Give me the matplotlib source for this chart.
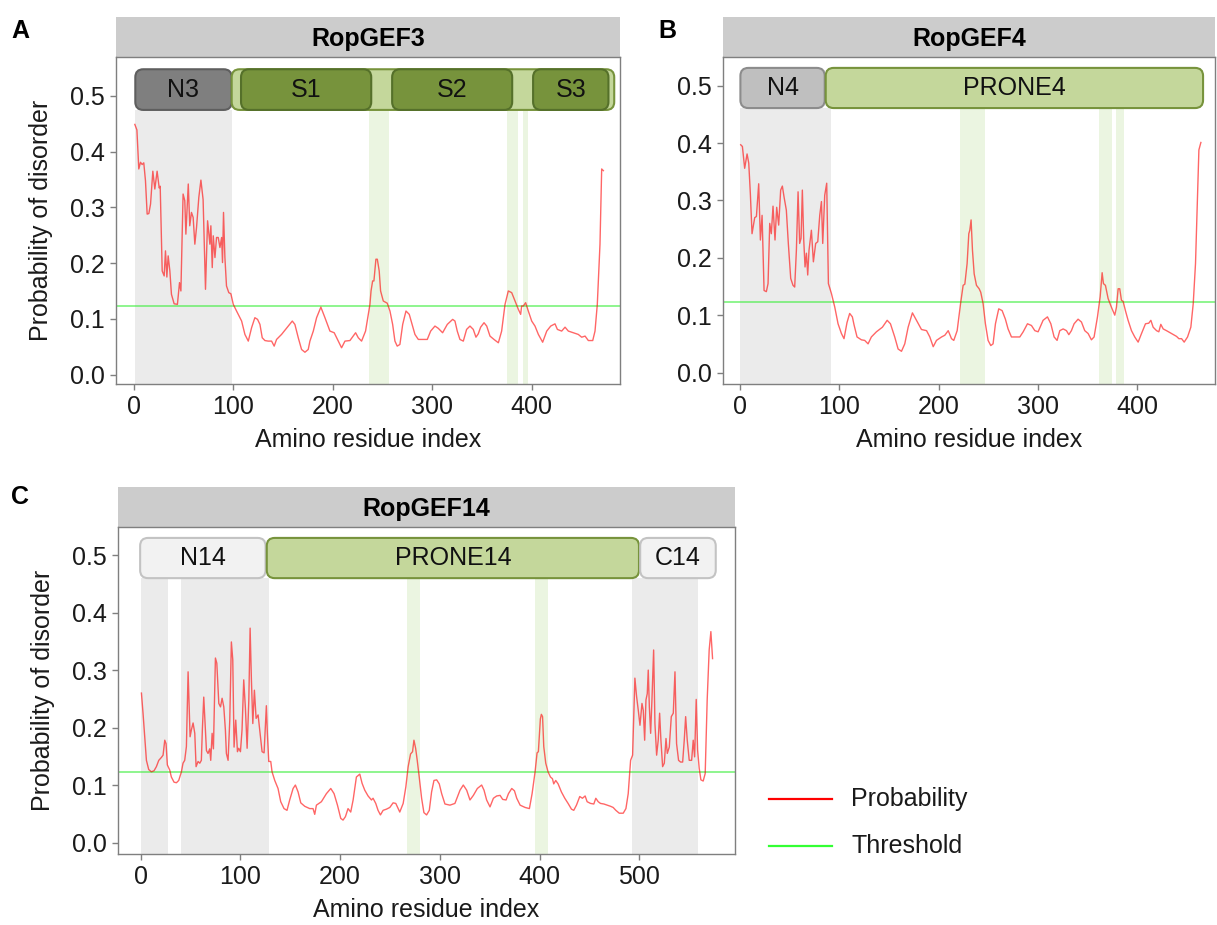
import matplotlib.pyplot as plt
from matplotlib.lines import Line2D
from matplotlib.patches import FancyBboxPatch

plt.rcParams["font.family"] = ["Liberation Sans", "DejaVu Sans"]

W, H = 1217, 925
THRESHOLD = 0.123
FS = 18

# RopGEF3
gef3_res = [1.2, 3.3, 5.2, 6.9, 8.6, 10.2, 11.9, 13.6, 15.3, 17.0, 19.3, 21.3, 23.6, 25.7, 26.7,
            28.7, 30.7, 32.0, 33.4, 34.7, 36.4, 38.0, 40.7, 44.0, 46.1, 47.5, 49.7, 51.4, 52.5,
            54.9, 56.4, 58.1, 59.8, 61.5, 63.2, 65.5, 67.6, 69.8, 72.2, 74.3, 76.6, 77.6, 79.0,
            80.0, 81.7, 83.3, 85.0, 86.7, 88.4, 89.3, 90.3, 91.7, 93.3, 95.6, 97.7, 100.1, 103.4,
            108.5, 111.8, 115.2, 118.5, 121.8, 124.5, 126.9, 129.2, 131.9, 135.2, 138.6, 141.2,
            143.6, 148.6, 155.3, 159.4, 162.0, 165.4, 168.7, 172.1, 175.4, 177.1, 180.5, 183.8,
            188.1, 192.2, 197.2, 201.5, 205.6, 208.9, 212.3, 217.3, 223.0, 225.7, 229.0, 233.0,
            237.4, 238.5, 240.1, 241.4, 243.4, 244.8, 246.7, 248.1, 250.8, 254.8, 257.5, 260.2,
            262.5, 264.8, 267.5, 270.3, 273.6, 276.9, 279.3, 282.6, 286.0, 291.0, 295.0, 298.4,
            302.7, 306.0, 310.4, 315.1, 320.5, 322.8, 325.1, 327.8, 331.2, 334.5, 337.9, 341.2,
            343.9, 346.2, 348.6, 352.0, 354.7, 358.0, 362.0, 366.4, 369.7, 373.1, 376.4, 379.8,
            383.1, 386.5, 388.8, 389.8, 391.5, 393.8, 396.5, 399.9, 403.2, 406.6, 410.9, 415.0,
            419.0, 423.3, 425.7, 430.0, 433.4, 436.7, 441.7, 446.7, 450.1, 453.5, 456.8, 461.2,
            463.5, 465.8, 468.5, 470.2, 471.9]
gef3_prob = [0.449, 0.439, 0.369, 0.381, 0.377, 0.380, 0.348, 0.288, 0.289, 0.306, 0.365, 0.333,
             0.365, 0.335, 0.338, 0.186, 0.177, 0.222, 0.175, 0.213, 0.186, 0.144, 0.127, 0.126,
             0.165, 0.150, 0.324, 0.312, 0.252, 0.342, 0.267, 0.291, 0.282, 0.234, 0.264, 0.318,
             0.349, 0.314, 0.153, 0.276, 0.234, 0.267, 0.192, 0.249, 0.210, 0.246, 0.246, 0.228,
             0.246, 0.201, 0.291, 0.210, 0.159, 0.147, 0.145, 0.126, 0.114, 0.096, 0.072, 0.060,
             0.084, 0.102, 0.099, 0.090, 0.066, 0.061, 0.060, 0.060, 0.051, 0.063, 0.072, 0.087,
             0.096, 0.090, 0.066, 0.045, 0.040, 0.045, 0.060, 0.078, 0.102, 0.121, 0.102, 0.078,
             0.075, 0.060, 0.048, 0.060, 0.061, 0.075, 0.066, 0.060, 0.078, 0.126, 0.150, 0.168,
             0.168, 0.207, 0.207, 0.186, 0.150, 0.132, 0.128, 0.114, 0.090, 0.060, 0.051, 0.054,
             0.090, 0.114, 0.108, 0.093, 0.072, 0.063, 0.063, 0.063, 0.078, 0.087, 0.083, 0.075,
             0.090, 0.099, 0.096, 0.078, 0.063, 0.060, 0.081, 0.087, 0.081, 0.067, 0.073, 0.085,
             0.093, 0.087, 0.069, 0.063, 0.057, 0.078, 0.126, 0.150, 0.147, 0.132, 0.117, 0.108,
             0.123, 0.123, 0.129, 0.114, 0.096, 0.087, 0.072, 0.058, 0.078, 0.087, 0.091, 0.081,
             0.078, 0.085, 0.078, 0.075, 0.072, 0.067, 0.069, 0.061, 0.061, 0.078, 0.126, 0.234,
             0.369, 0.366]
gef3_domains = [("N3", 1.7, 98.5, "dark"), ("", 98.5, 482.8, "prone"),
                ("S1", 107.9, 238.7, "sub"), ("S2", 259.7, 380.3, "sub"),
                ("S3", 401.3, 477.0, "sub")]
gef3_grey = [(1.7, 98.5)]
gef3_green = [(236.7, 256.5), (374.6, 385.8), (390.8, 395.9)]

# RopGEF4
gef4_res = [1.0, 2.7, 5.0, 7.4, 9.1, 10.7, 12.4, 15.1, 16.8, 19.1, 20.8, 22.5, 24.5, 26.8, 28.5,
            30.2, 31.8, 33.5, 35.5, 37.2, 39.2, 41.2, 42.9, 44.6, 46.9, 48.9, 51.3, 53.6, 55.3,
            57.0, 58.7, 60.3, 61.7, 63.0, 64.4, 65.7, 67.1, 68.4, 69.7, 72.1, 74.1, 76.4, 78.5,
            80.5, 82.2, 83.5, 85.5, 87.5, 89.2, 92.2, 95.6, 98.9, 102.3, 104.9, 107.9, 110.6,
            113.3, 115.0, 118.0, 122.4, 125.7, 129.1, 132.4, 137.5, 143.5, 148.3, 151.6, 155.9,
            159.3, 162.7, 166.0, 169.4, 173.7, 177.8, 182.8, 187.9, 191.2, 194.6, 197.9, 203.0,
            206.3, 209.7, 213.0, 215.3, 218.7, 222.1, 224.7, 226.4, 228.7, 230.4, 231.4, 232.7,
            234.1, 235.8, 238.1, 240.8, 242.4, 244.8, 247.1, 249.8, 252.5, 254.8, 257.2, 260.5,
            263.9, 267.2, 269.9, 273.3, 278.3, 281.7, 285.1, 289.4, 293.4, 296.8, 300.1, 305.1,
            309.5, 312.9, 316.2, 319.2, 321.9, 325.3, 328.6, 331.0, 333.6, 336.3, 340.3, 343.7,
            347.0, 350.4, 353.7, 356.4, 359.8, 362.5, 364.5, 365.8, 367.8, 370.5, 373.8, 377.2,
            378.9, 380.6, 382.2, 383.9, 385.6, 387.9, 390.6, 394.0, 397.3, 400.7, 404.1, 408.1,
            411.4, 413.5, 415.8, 419.2, 421.5, 423.5, 425.9, 429.2, 434.3, 439.3, 441.7, 444.4,
            447.0, 450.4, 453.7, 456.1, 458.4, 460.4, 461.8, 463.8]
gef4_prob = [0.397, 0.394, 0.356, 0.381, 0.365, 0.312, 0.242, 0.270, 0.272, 0.329, 0.231, 0.274,
             0.143, 0.141, 0.155, 0.260, 0.242, 0.290, 0.231, 0.288, 0.257, 0.318, 0.325, 0.306,
             0.283, 0.225, 0.164, 0.152, 0.149, 0.213, 0.315, 0.225, 0.234, 0.318, 0.231, 0.184,
             0.208, 0.170, 0.213, 0.248, 0.193, 0.225, 0.228, 0.274, 0.298, 0.225, 0.309, 0.330,
             0.155, 0.138, 0.114, 0.085, 0.068, 0.059, 0.087, 0.103, 0.097, 0.083, 0.062, 0.057,
             0.056, 0.050, 0.062, 0.071, 0.079, 0.091, 0.085, 0.062, 0.041, 0.037, 0.050, 0.079,
             0.104, 0.091, 0.075, 0.073, 0.062, 0.045, 0.056, 0.062, 0.065, 0.073, 0.059, 0.056,
             0.073, 0.120, 0.152, 0.154, 0.190, 0.242, 0.248, 0.266, 0.213, 0.172, 0.152, 0.146,
             0.140, 0.120, 0.085, 0.056, 0.047, 0.050, 0.085, 0.111, 0.108, 0.093, 0.076, 0.062,
             0.062, 0.062, 0.071, 0.085, 0.082, 0.073, 0.071, 0.091, 0.097, 0.085, 0.062, 0.056,
             0.073, 0.076, 0.073, 0.066, 0.073, 0.085, 0.093, 0.088, 0.073, 0.068, 0.057, 0.062,
             0.097, 0.132, 0.174, 0.155, 0.152, 0.129, 0.114, 0.100, 0.114, 0.146, 0.146, 0.126,
             0.124, 0.108, 0.091, 0.073, 0.062, 0.053, 0.068, 0.085, 0.086, 0.091, 0.079, 0.073,
             0.071, 0.084, 0.076, 0.073, 0.068, 0.063, 0.059, 0.059, 0.053, 0.062, 0.079, 0.120,
             0.190, 0.306, 0.388, 0.401]
gef4_domains = [("N4", 0.7, 85.5, "mid"), ("PRONE4", 86.5, 466.0, "prone")]
gef4_grey = [(0.7, 91.5)]
gef4_green = [(221.3, 246.5), (361.2, 374.0), (378.6, 386.0)]

# RopGEF14
gef14_res = [0.7, 2.3, 4.0, 5.7, 8.0, 10.7, 13.4, 15.7, 18.1, 20.7, 22.4, 24.1, 25.4, 26.7, 29.1,
             30.7, 33.4, 35.8, 38.1, 40.8, 42.4, 44.1, 45.8, 47.5, 49.5, 50.8, 52.5, 54.2, 55.5,
             57.5, 59.2, 60.8, 61.8, 63.2, 64.5, 65.9, 67.5, 69.2, 70.2, 71.6, 72.9, 74.9, 76.3,
             78.3, 80.0, 81.6, 83.3, 84.9, 85.9, 87.6, 89.3, 90.9, 92.3, 93.6, 95.3, 97.0, 98.3,
             100.0, 101.6, 103.3, 105.0, 106.7, 108.4, 109.7, 111.0, 112.4, 114.0, 115.7, 117.7,
             119.7, 121.7, 123.7, 125.1, 126.0, 127.0, 128.4, 130.4, 131.7, 134.4, 137.7, 140.4,
             143.7, 146.7, 149.4, 152.8, 155.1, 157.8, 160.5, 164.5, 169.5, 172.8, 174.5, 176.2,
             181.2, 186.2, 190.6, 193.9, 197.3, 200.6, 202.9, 205.3, 207.9, 210.6, 213.0, 216.3,
             219.7, 222.0, 224.7, 228.0, 231.4, 233.0, 235.7, 238.0, 240.4, 243.1, 246.4, 249.8,
             253.1, 255.8, 259.8, 263.2, 265.9, 268.2, 270.6, 272.6, 274.0, 275.7, 277.3, 279.3,
             281.7, 284.0, 286.7, 289.4, 291.7, 294.1, 296.8, 299.4, 301.8, 305.1, 310.1, 315.1,
             320.2, 323.5, 326.9, 330.2, 333.6, 337.6, 341.9, 344.3, 346.9, 350.3, 353.7, 357.0,
             360.4, 363.0, 366.4, 368.8, 372.1, 374.8, 377.1, 380.5, 385.5, 389.8, 392.5, 395.5,
             397.5, 398.8, 400.8, 401.8, 403.0, 404.2, 406.2, 408.5, 410.9, 412.9, 414.2, 416.2,
             418.6, 421.9, 425.3, 428.6, 432.0, 434.3, 437.0, 440.3, 443.0, 445.7, 447.7, 451.1,
             454.4, 456.4, 458.8, 461.1, 464.5, 467.8, 471.2, 473.8, 476.5, 479.9, 483.9, 486.6,
             488.9, 491.3, 493.3, 495.6, 497.3, 499.0, 500.7, 502.7, 504.0, 505.4, 506.7, 508.0,
             509.0, 510.1, 511.4, 512.7, 514.4, 515.7, 517.4, 519.0, 520.4, 521.7, 523.4, 525.1,
             526.8, 528.1, 530.1, 532.1, 534.1, 535.8, 537.4, 539.4, 541.4, 543.5, 545.1, 546.5,
             548.1, 550.1, 552.5, 554.1, 555.5, 557.1, 558.5, 560.1, 561.8, 564.1, 566.1, 568.1,
             570.1, 571.8, 573.5]
gef14_prob = [0.260, 0.225, 0.184, 0.143, 0.127, 0.123, 0.125, 0.132, 0.143, 0.148, 0.152, 0.178,
              0.172, 0.135, 0.126, 0.114, 0.105, 0.104, 0.108, 0.123, 0.138, 0.143, 0.167, 0.297,
              0.184, 0.196, 0.208, 0.190, 0.132, 0.141, 0.138, 0.143, 0.196, 0.253, 0.207, 0.160,
              0.155, 0.163, 0.143, 0.190, 0.163, 0.321, 0.312, 0.242, 0.236, 0.251, 0.236, 0.196,
              0.155, 0.143, 0.213, 0.349, 0.318, 0.166, 0.213, 0.158, 0.164, 0.158, 0.196, 0.283,
              0.233, 0.164, 0.248, 0.373, 0.283, 0.207, 0.265, 0.216, 0.222, 0.190, 0.158, 0.156,
              0.207, 0.238, 0.190, 0.141, 0.141, 0.123, 0.108, 0.094, 0.071, 0.059, 0.056, 0.074,
              0.094, 0.100, 0.088, 0.069, 0.063, 0.059, 0.059, 0.049, 0.065, 0.071, 0.085, 0.094,
              0.085, 0.065, 0.042, 0.039, 0.045, 0.059, 0.053, 0.074, 0.114, 0.119, 0.103, 0.091,
              0.081, 0.074, 0.077, 0.068, 0.056, 0.048, 0.056, 0.058, 0.061, 0.069, 0.068, 0.053,
              0.068, 0.097, 0.132, 0.154, 0.158, 0.178, 0.164, 0.143, 0.114, 0.077, 0.052, 0.048,
              0.056, 0.088, 0.108, 0.109, 0.102, 0.085, 0.067, 0.065, 0.068, 0.091, 0.100, 0.091,
              0.074, 0.082, 0.094, 0.100, 0.091, 0.074, 0.062, 0.077, 0.081, 0.082, 0.075, 0.074,
              0.085, 0.094, 0.090, 0.077, 0.065, 0.061, 0.059, 0.085, 0.123, 0.156, 0.158, 0.215,
              0.223, 0.219, 0.167, 0.138, 0.123, 0.114, 0.111, 0.102, 0.108, 0.102, 0.088, 0.077,
              0.068, 0.058, 0.056, 0.065, 0.080, 0.077, 0.081, 0.071, 0.068, 0.067, 0.077, 0.071,
              0.068, 0.067, 0.065, 0.063, 0.061, 0.056, 0.051, 0.051, 0.059, 0.085, 0.143, 0.152,
              0.286, 0.254, 0.230, 0.204, 0.242, 0.230, 0.178, 0.248, 0.259, 0.300, 0.236, 0.190,
              0.248, 0.335, 0.207, 0.152, 0.178, 0.225, 0.178, 0.132, 0.138, 0.181, 0.155, 0.166,
              0.219, 0.225, 0.297, 0.172, 0.143, 0.140, 0.140, 0.178, 0.219, 0.178, 0.143, 0.143,
              0.178, 0.149, 0.249, 0.161, 0.129, 0.109, 0.107, 0.120, 0.248, 0.335, 0.367, 0.320]
gef14_domains = [("N14", -0.6, 125.2, "light"), ("PRONE14", 126.4, 499.7, "prone"),
                 ("C14", 500.9, 576.7, "light")]
gef14_grey = [(0.7, 27.4), (40.1, 128.7), (492.8, 559.0)]
gef14_green = [(267.1, 280.5), (395.2, 408.5)]

DOMAIN_STYLE = {
    "dark": ("#7f7f7f", "#5e5e5e"),
    "mid": ("#bfbfbf", "#8c8c8c"),
    "light": ("#f2f2f2", "#c3c3c3"),
    "prone": ("#c4d79b", "#77933c"),
    "sub": ("#77933c", "#55702a"),
}

fig = plt.figure(figsize=(W / 100, H / 100), dpi=100)


def px_axes(left, top, right, bottom):
    return fig.add_axes([left / W, 1 - bottom / H, (right - left) / W, (bottom - top) / H])


def draw_panel(frame, xlim, ylim, box_y, res, prob, domains, grey, green, title, xticks, ylabel):
    left, top, right, bottom = frame

    strip = px_axes(left, top - 40, right, top)
    strip.set_facecolor("#cccccc")
    strip.set_xticks([])
    strip.set_yticks([])
    for s in strip.spines.values():
        s.set_visible(False)
    strip.text(0.5, 0.46, title, ha="center", va="center", fontsize=FS,
               fontweight="bold", transform=strip.transAxes)

    ax = px_axes(left, top, right, bottom)
    ax.set_xlim(*xlim)
    ax.set_ylim(*ylim)
    frac = (box_y[0] - ylim[0]) / (ylim[1] - ylim[0])
    for x0, x1 in grey:
        ax.axvspan(x0, x1, ymin=0, ymax=frac, color="#ebebeb", lw=0, zorder=0)
    for x0, x1 in green:
        ax.axvspan(x0, x1, ymin=0, ymax=frac, color="#ebf5e1", lw=0, zorder=0)

    ax.axhline(THRESHOLD, color="#33ee33", alpha=0.55, lw=1.4, zorder=2)
    ax.plot(res, prob, color="#ff0000", alpha=0.6, lw=1.0, zorder=3)

    xpp = (xlim[1] - xlim[0]) / (right - left)
    ypp = (ylim[1] - ylim[0]) / (bottom - top)
    for name, x0, x1, kind in domains:
        face, edge = DOMAIN_STYLE[kind]
        patch = FancyBboxPatch((x0, box_y[0]), x1 - x0, box_y[1] - box_y[0],
                               boxstyle=f"round,pad=0,rounding_size={8 * xpp}",
                               mutation_aspect=ypp / xpp, fc=face, ec=edge, lw=1.5, zorder=4)
        ax.add_patch(patch)
        if name:
            ax.text((x0 + x1) / 2, sum(box_y) / 2, name, ha="center", va="center",
                    fontsize=FS, color="#111111", zorder=5)

    ax.set_xticks(xticks)
    ax.set_yticks([0, 0.1, 0.2, 0.3, 0.4, 0.5])
    ax.set_yticklabels(["0.0", "0.1", "0.2", "0.3", "0.4", "0.5"])
    ax.tick_params(direction="out", length=4, width=1, color="#7f7f7f",
                   labelsize=FS, labelcolor="#1a1a1a", pad=4)
    for s in ax.spines.values():
        s.set_color("#7f7f7f")
        s.set_linewidth(1)
    ax.set_xlabel("Amino residue index", fontsize=FS, color="#1a1a1a", labelpad=6.5)
    if ylabel:
        ax.set_ylabel("Probability of disorder", fontsize=FS, color="#1a1a1a", labelpad=12)
    return ax


draw_panel((116, 57, 620, 384), (-17.7, 488.6), (-0.017, 0.570), (0.475, 0.548),
           gef3_res, gef3_prob, gef3_domains, gef3_grey, gef3_green, "RopGEF3",
           [0, 100, 200, 300, 400], True)
draw_panel((723, 57, 1215, 384), (-16.8, 478.0), (-0.020, 0.550), (0.461, 0.531),
           gef4_res, gef4_prob, gef4_domains, gef4_grey, gef4_green, "RopGEF4",
           [0, 100, 200, 300, 400], False)
draw_panel((118, 527, 735, 854), (-22.8, 596.0), (-0.020, 0.549), (0.460, 0.530),
           gef14_res, gef14_prob, gef14_domains, gef14_grey, gef14_green, "RopGEF14",
           [0, 100, 200, 300, 400, 500], True)

for letter, x, y in [("A", 20, 31), ("B", 667, 31), ("C", 20, 497)]:
    fig.text(x / W, 1 - y / H, letter, fontsize=FS, fontweight="bold", ha="center", va="center")

# legend
for label, color, y in [("Probability", "#ff0000", 799), ("Threshold", "#33ff33", 846)]:
    fig.add_artist(Line2D([769 / W, 832 / W], [1 - y / H, 1 - y / H], color=color, lw=1.6))
    fig.text(851 / W, 1 - y / H, label, fontsize=FS, color="#1a1a1a", va="center", ha="left")

fig.savefig("out.png", dpi=100)
